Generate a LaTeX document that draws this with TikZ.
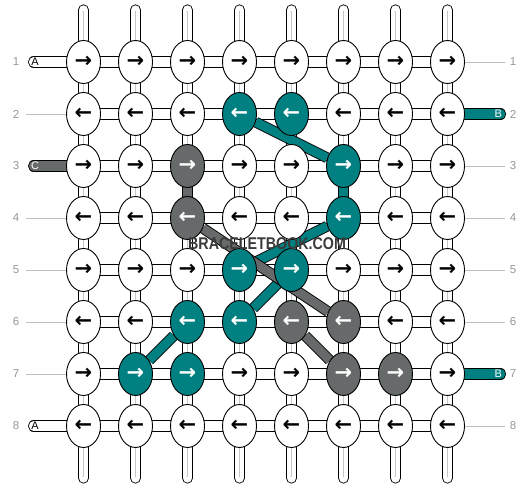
\documentclass[tikz,border=0pt]{standalone}
\usepackage{fontspec}
\setmainfont{Liberation Sans}
\newfontfamily\arrowfont{DejaVu Sans}
\usetikzlibrary{shapes.geometric}
\definecolor{bbteal}{RGB}{0,128,128}
\definecolor{bbgray}{RGB}{102,106,106}
\definecolor{numgray}{RGB}{150,150,150}
\definecolor{markgray}{RGB}{58,58,58}
\pgfdeclarelayer{back}
\pgfsetlayers{back,main}
\newcommand\kr{→}
\newcommand\kl{←}
\tikzset{
  knot/.style={ellipse, draw, line width=0.9pt, fill=white, minimum width=34pt,
    minimum height=43pt, inner sep=0pt, font=\arrowfont\bfseries\fontsize{21}{21}\selectfont},
  tk/.style={knot, fill=bbteal, text=white},
  gk/.style={knot, fill=bbgray, text=white},
  thread/.style={line width=0.9pt, double=white, double distance=9.4pt, line cap=round},
  core/.style={line width=1.6pt, black!22},
  band/.style={line width=0.9pt, double distance=9pt},
  rowline/.style={line width=0.8pt, black!25},
  rownum/.style={text=numgray, font=\fontsize{11.5}{11.5}\selectfont},
  tabtext/.style={font=\fontsize{11}{11}\selectfont, inner sep=0pt},
  wmark/.style={text=markgray, font=\bfseries\fontsize{17}{17}\selectfont}
}
\begin{document}
\begin{tikzpicture}[x=52pt,y=-52pt]
  \useasboundingbox (-0.606,-0.192) rectangle (9.625,9.192);
  \draw
    (1,1) node[knot] (k11){\kr}
    (2,1) node[knot] (k12){\kr}
    (3,1) node[knot] (k13){\kr}
    (4,1) node[knot] (k14){\kr}
    (5,1) node[knot] (k15){\kr}
    (6,1) node[knot] (k16){\kr}
    (7,1) node[knot] (k17){\kr}
    (8,1) node[knot] (k18){\kr}
    (1,2) node[knot] (k21){\kl}
    (2,2) node[knot] (k22){\kl}
    (3,2) node[knot] (k23){\kl}
    (4,2) node[tk] (k24){\kl}
    (5,2) node[tk] (k25){\kl}
    (6,2) node[knot] (k26){\kl}
    (7,2) node[knot] (k27){\kl}
    (8,2) node[knot] (k28){\kl}
    (1,3) node[knot] (k31){\kr}
    (2,3) node[knot] (k32){\kr}
    (3,3) node[gk] (k33){\kr}
    (4,3) node[knot] (k34){\kr}
    (5,3) node[knot] (k35){\kr}
    (6,3) node[tk] (k36){\kr}
    (7,3) node[knot] (k37){\kr}
    (8,3) node[knot] (k38){\kr}
    (1,4) node[knot] (k41){\kl}
    (2,4) node[knot] (k42){\kl}
    (3,4) node[gk] (k43){\kl}
    (4,4) node[knot] (k44){\kl}
    (5,4) node[knot] (k45){\kl}
    (6,4) node[tk] (k46){\kl}
    (7,4) node[knot] (k47){\kl}
    (8,4) node[knot] (k48){\kl}
    (1,5) node[knot] (k51){\kr}
    (2,5) node[knot] (k52){\kr}
    (3,5) node[knot] (k53){\kr}
    (4,5) node[tk] (k54){\kr}
    (5,5) node[tk] (k55){\kr}
    (6,5) node[knot] (k56){\kr}
    (7,5) node[knot] (k57){\kr}
    (8,5) node[knot] (k58){\kr}
    (1,6) node[knot] (k61){\kl}
    (2,6) node[knot] (k62){\kl}
    (3,6) node[tk] (k63){\kl}
    (4,6) node[tk] (k64){\kl}
    (5,6) node[gk] (k65){\kl}
    (6,6) node[gk] (k66){\kl}
    (7,6) node[knot] (k67){\kl}
    (8,6) node[knot] (k68){\kl}
    (1,7) node[knot] (k71){\kr}
    (2,7) node[tk] (k72){\kr}
    (3,7) node[tk] (k73){\kr}
    (4,7) node[knot] (k74){\kr}
    (5,7) node[knot] (k75){\kr}
    (6,7) node[gk] (k76){\kr}
    (7,7) node[gk] (k77){\kr}
    (8,7) node[knot] (k78){\kr}
    (1,8) node[knot] (k81){\kl}
    (2,8) node[knot] (k82){\kl}
    (3,8) node[knot] (k83){\kl}
    (4,8) node[knot] (k84){\kl}
    (5,8) node[knot] (k85){\kl}
    (6,8) node[knot] (k86){\kl}
    (7,8) node[knot] (k87){\kl}
    (8,8) node[knot] (k88){\kl};
  \foreach \r in {1,...,8}{
    \node[rownum] (ln\r) at (-0.298,\r) {\r};
    \node[rownum] (rn\r) at (9.26,\r) {\r};
  }
  \draw
    (0.067,1) node[tabtext] (ta1){A}
    (0.067,3) node[tabtext, text=white] (ta3){C}
    (0.067,8) node[tabtext] (ta8){A}
    (8.975,2) node[tabtext, text=white] (tb2){B}
    (8.975,7) node[tabtext, text=white] (tb7){B};
  \node[wmark] (wm) at (4.53,4.5) {\scalebox{0.84}[1]{BRACELETBOOK.COM}};
  \begin{pgfonlayer}{back}
    \foreach \c in {1,...,8}{
      \coordinate (top\c) at (\c,0);
      \coordinate (bot\c) at (\c,9);
      \draw[thread] (top\c) -- (k1\c);
      \draw[thread] (k8\c) -- (bot\c);
      \draw[core, shorten <=1pt] (top\c) -- (k1\c);
      \draw[core, shorten >=1pt] (k8\c) -- (bot\c);
    }
    \foreach \r in {1,...,8}
      \foreach \c [count=\n from 2] in {1,...,7}
        \draw[thread] (k\r\c) -- (k\r\n);
    \foreach \r [count=\n from 2] in {1,...,7}
      \foreach \c in {1,...,8}{
        \draw[thread] (k\r\c) -- (k\n\c);
        \draw[core] (k\r\c) -- (k\n\c);
      }
    \draw[thread, double=bbgray] (k33) -- (k43);
    \draw[thread, double=bbteal] (k36) -- (k46);
    \coordinate (la1) at (0.04,1);
    \coordinate (la3) at (0.04,3);
    \coordinate (la8) at (0.04,8);
    \coordinate (rb2) at (9.02,2);
    \coordinate (rb7) at (9.02,7);
    \draw[thread] (la1) -- (k11);
    \draw[thread, double=bbgray] (la3) -- (k31);
    \draw[thread] (la8) -- (k81);
    \draw[thread, double=bbteal] (k28) -- (rb2);
    \draw[thread, double=bbteal] (k78) -- (rb7);
    \foreach \r in {2,4,5,6,7}{
      \coordinate (lg\r) at (-0.106,\r);
      \draw[rowline] (lg\r) -- (k\r1);
    }
    \foreach \r in {1,3,4,5,6,8}{
      \coordinate (rg\r) at (9.1,\r);
      \draw[rowline] (k\r8) -- (rg\r);
    }
    \draw[band, double=bbteal] (k24) -- (k36);
    \draw[band, double=bbteal] (k46) -- (k54);
    \draw[band, double=bbteal] (k55) -- (k64);
    \draw[band, double=bbteal] (k63) -- (k72);
    \draw[band, double=bbgray] (k43) -- (k66);
    \draw[band, double=bbgray] (k65) -- (k76);
  \end{pgfonlayer}
\end{tikzpicture}
\end{document}
